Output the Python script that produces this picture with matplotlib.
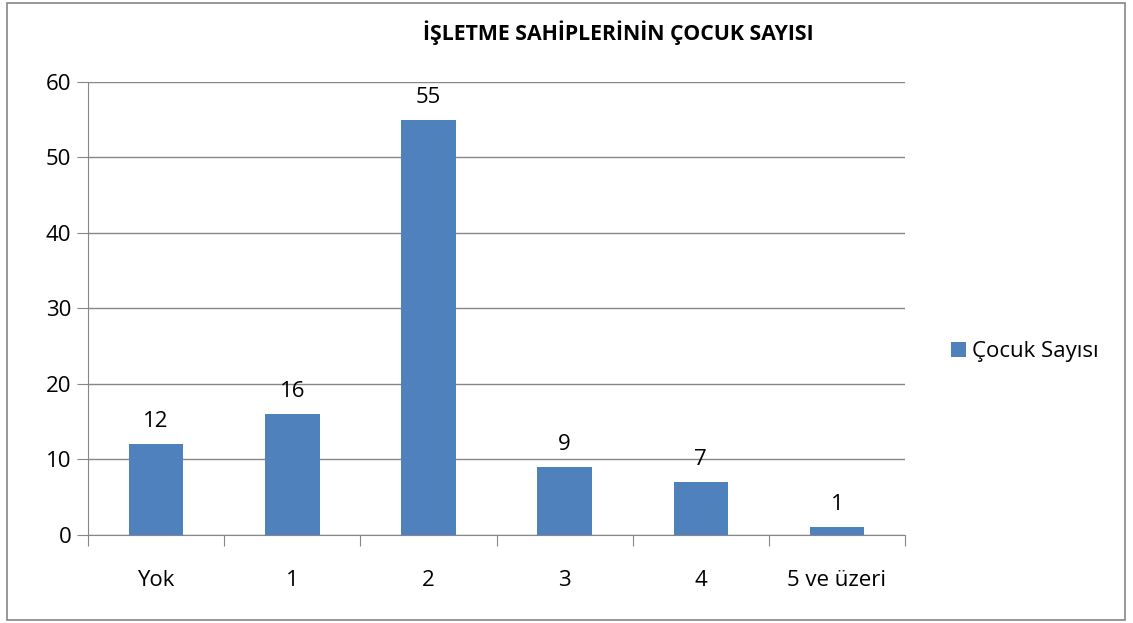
import numpy as np
import matplotlib.pyplot as plt
from matplotlib.patches import Rectangle

# Data
kategoriler = ['Yok', '1', '2', '3', '4', '5 ve üzeri']
cocuk_sayisi = [12, 16, 55, 9, 7, 1]

plt.rcParams['font.family'] = ['Open Sans', 'DejaVu Sans']

fig = plt.figure(figsize=(11.33, 6.23), dpi=100)
ax = fig.add_axes([0.0777, 0.1413, 0.7211, 0.7271])

x = np.arange(len(kategoriler))
bars = ax.bar(x, cocuk_sayisi, width=0.4, color='#4F81BD', label='Çocuk Sayısı', zorder=3)
for xi, v in zip(x, cocuk_sayisi):
    ax.text(xi, v + 1.6, str(v), ha='center', va='bottom', fontsize=16)

ax.set_xlim(-0.5, len(kategoriler) - 0.5)
ax.set_ylim(0, 60)
ax.set_yticks(range(0, 61, 10))
ax.grid(axis='y', color='#868686', linewidth=1, zorder=0)

ax.set_xticks(np.arange(-0.5, len(kategoriler)), minor=False)
ax.set_xticklabels([])
ax.set_xticks(x, minor=True)
ax.set_xticklabels(kategoriler, minor=True)
ax.tick_params(axis='x', which='major', length=8, color='#868686', direction='out')
ax.tick_params(axis='x', which='minor', length=0, labelsize=16, pad=25)
ax.tick_params(axis='y', length=8, color='#868686', labelsize=16, pad=4)

for s in ['top', 'right']:
    ax.spines[s].set_visible(False)
for s in ['left', 'bottom']:
    ax.spines[s].set_color('#868686')

fig.text(0.5455, 0.947, 'İŞLETME SAHİPLERİNİN ÇOCUK SAYISI', ha='center', va='center',
         fontsize=15.3, fontweight='bold')

fig.legend(handles=[bars], labels=['Çocuk Sayısı'], loc='center left',
           bbox_to_anchor=(0.822, 0.435), frameon=False, fontsize=16,
           handlelength=0.65, handleheight=0.65, handletextpad=0.3)

fig.patches.append(Rectangle((0.006, 0.005), 0.987, 0.99, transform=fig.transFigure,
                             fill=False, edgecolor='#868686', linewidth=1.2))

fig.savefig('out.png', dpi=100)
